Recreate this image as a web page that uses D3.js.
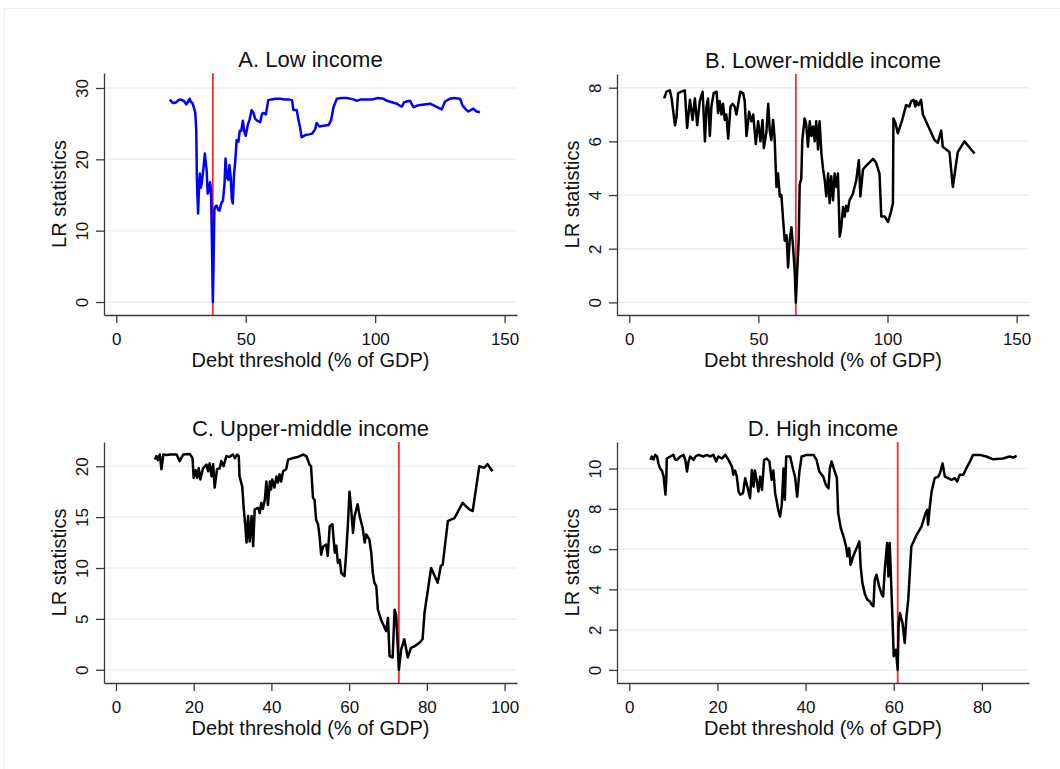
<!DOCTYPE html>
<html>
<head>
<meta charset="utf-8">
<script src="https://cdn.jsdelivr.net/npm/d3@7"></script>
<style>
  html, body { margin: 0; padding: 0; background: #fff; }
  svg { display: block; font-family: "Liberation Sans", Arial, sans-serif; }
</style>
</head>
<body>
<svg id="chart" width="1060" height="769"></svg>
<script>
// Panel titles, thresholds (red reference line) and axis ticks
const panelTitles = ["A. Low income", "B. Lower-middle income", "C. Upper-middle income", "D. High income"];
const thresholds = [37.3, 64.5, 72.8, 60.9];
const xTicksA = [0, 50, 100, 150];
const xTicksB = [0, 50, 100, 150];
const xTicksC = [0, 20, 40, 60, 80, 100];
const xTicksD = [0, 20, 40, 60, 80];
const yTicksA = [0, 10, 20, 30];
const yTicksB = [0, 2, 4, 6, 8];
const yTicksC = [0, 5, 10, 15, 20];
const yTicksD = [0, 2, 4, 6, 8, 10];

// A. Low income: debt threshold (% of GDP) and LR statistic
const lowX = [20.7,21.5,22.3,23.2,24.0,24.8,25.5,26.3,27.0,27.6,28.3,28.9,29.4,30.0,30.5,30.9,31.1,31.3,31.6,31.9,32.3,32.6,33.0,33.6,34.2,34.6,34.9,35.3,35.8,36.2,36.6,37.0,37.3,37.6,37.9,38.3,38.8,39.4,39.9,40.5,41.2,41.8,42.2,42.7,43.3,43.7,44.2,44.6,45.0,45.5,45.9,46.5,47.2,47.7,48.3,48.9,49.5,50.0,50.8,51.5,52.3,53.0,53.6,54.5,55.6,56.3,57.0,57.8,58.7,60.0,61.5,63.3,65.0,66.5,67.9,68.4,69.7,70.5,71.0,71.6,73.0,74.5,75.6,76.8,77.4,78.5,80.0,82.0,83.0,83.9,85.2,87.0,89.0,91.6,92.9,94.5,96.9,99.0,101.0,103.2,104.5,106.5,108.4,109.6,110.3,111.2,112.2,113.5,114.8,116.0,117.3,119.0,121.2,123.0,125.7,127.0,128.9,130.5,132.8,133.7,135.0,136.0,137.9,139.2,140.5];
const lowY = [28.4,28.0,27.9,28.0,28.3,28.4,28.3,28.1,27.7,28.0,28.5,28.0,27.9,27.2,26.6,24.0,18.0,15.2,12.4,15.5,18.0,16.0,16.6,18.5,20.8,19.5,18.5,15.2,15.4,16.8,15.8,7.0,0.0,6.0,13.0,13.4,13.5,12.9,12.8,13.8,14.2,16.5,20.1,17.5,17.1,19.2,17.5,14.5,13.8,18.0,19.5,22.7,22.5,24.0,24.0,25.4,23.8,23.3,24.8,25.6,26.9,26.5,25.7,25.4,25.2,26.4,26.5,26.3,28.3,28.4,28.5,28.5,28.4,28.4,28.3,26.9,26.9,25.3,24.5,23.1,23.4,23.5,23.6,24.2,25.1,24.6,24.7,24.8,25.5,27.3,28.5,28.6,28.6,28.4,28.2,28.4,28.4,28.4,28.6,28.5,28.2,28.0,27.8,27.5,27.4,28.0,28.1,28.2,27.3,27.5,27.6,27.7,27.8,27.5,27.0,28.1,28.5,28.6,28.5,27.6,27.0,26.7,27.1,26.7,26.6];

// B. Lower-middle income
const lowerMidX = [13.5,14.4,15.7,16.4,17.7,18.3,18.9,20.2,21.5,22.4,23.5,24.5,25.4,26.3,27.3,28.4,29.3,29.9,30.5,31.2,31.8,32.7,33.8,34.4,35.0,35.7,36.3,37.0,37.6,38.3,39.2,40.0,40.8,41.5,42.2,43.0,44.1,44.7,45.4,46.4,47.3,48.0,49.0,49.9,50.8,51.6,52.1,53.1,53.8,54.4,55.0,55.7,56.3,57.0,57.6,58.3,58.9,59.6,60.2,60.9,61.5,62.1,62.8,63.4,64.1,64.5,65.0,65.6,66.0,66.6,67.0,67.9,68.5,69.2,69.9,70.5,71.2,71.8,72.4,73.1,73.7,74.4,75.0,75.7,76.3,77.0,77.6,78.2,78.9,79.5,80.2,80.8,81.5,82.1,82.8,83.4,84.0,84.6,85.3,86.6,87.9,88.9,89.5,90.5,91.8,94.4,95.6,96.9,97.6,98.9,100.2,101.3,102.1,102.3,103.0,104.0,105.7,107.2,108.5,109.2,110.1,110.8,111.1,112.0,113.0,113.7,115.6,118.2,119.5,120.8,121.4,124.0,125.3,127.2,129.8,133.7];
const lowerMidY = [7.6,7.85,7.9,7.6,6.6,6.9,7.8,7.85,7.9,6.5,7.55,6.8,7.6,6.6,7.5,7.85,6.0,7.3,7.6,6.2,7.3,7.8,7.85,7.05,7.5,7.0,7.4,6.8,7.0,6.1,7.3,7.4,7.3,7.0,7.4,7.85,7.8,7.5,6.2,7.1,6.75,7.0,5.9,6.75,6.0,6.8,5.75,6.35,7.4,6.4,6.05,6.8,6.1,4.3,4.8,3.95,4.0,3.05,2.3,2.5,1.3,2.3,2.8,2.1,1.1,0.0,1.1,2.3,4.4,4.6,6.05,6.85,6.65,5.8,6.75,6.2,6.55,6.0,6.75,5.7,6.75,5.55,5.0,4.55,3.95,4.8,3.7,4.7,3.8,4.8,4.3,4.8,2.45,2.8,3.55,3.2,3.6,3.4,3.8,4.05,4.55,5.3,3.95,4.95,5.1,5.35,5.2,4.8,3.2,3.2,3.0,3.35,3.7,6.85,6.7,6.3,6.8,7.35,7.3,7.5,7.55,7.3,7.5,7.35,7.55,7.0,6.6,6.05,5.95,6.4,5.8,5.6,4.3,5.6,6.0,5.55];

// C. Upper-middle income
const upperMidX = [10.0,10.4,10.8,11.3,11.7,12.2,13.0,13.9,15.6,16.4,17.3,19.0,19.7,20.0,20.5,20.9,21.3,21.7,22.4,23.3,23.7,24.1,24.6,25.0,25.4,26.0,26.7,27.1,27.7,28.4,29.2,30.1,30.6,31.2,31.6,31.8,32.5,32.9,33.3,33.6,34.0,34.4,34.9,35.3,35.7,36.6,37.0,37.4,37.8,38.3,38.7,39.1,39.6,39.9,40.2,40.8,41.3,41.7,42.1,42.5,43.0,43.8,44.3,45.5,46.8,48.1,49.0,49.8,50.2,50.7,51.1,51.5,52.0,52.4,52.8,53.3,54.1,54.5,55.0,55.7,56.3,56.7,57.1,57.6,58.0,58.8,59.2,59.7,60.1,60.5,61.0,61.4,62.2,62.7,63.5,64.0,64.4,65.2,65.7,66.1,66.5,67.0,67.4,68.2,69.5,70.0,70.4,71.2,71.7,72.1,72.8,73.4,74.2,75.1,75.9,76.8,78.1,78.9,79.4,81.1,82.8,83.6,84.1,85.4,86.2,87.1,89.2,90.9,91.8,93.5,94.8,95.6,96.9];
const upperMidY = [20.65,21.0,20.6,21.15,19.7,21.15,21.1,21.15,21.15,20.5,21.15,21.2,20.8,18.85,19.6,18.85,19.8,18.7,19.8,20.15,19.5,20.3,19.0,20.2,17.9,19.7,19.8,20.5,20.0,21.0,20.9,21.15,20.8,21.15,21.0,19.0,18.0,15.75,14.1,12.5,15.1,12.6,15.1,12.15,15.75,15.9,15.4,16.4,15.8,16.7,18.5,16.2,18.5,17.7,18.7,17.9,19.0,18.4,19.2,18.5,19.5,19.7,20.65,20.8,20.9,21.15,21.0,20.15,20.0,16.9,16.7,14.75,14.3,13.1,11.3,12.1,12.3,11.2,14.1,14.3,11.5,12.2,10.5,10.8,9.5,9.2,11.2,14.4,17.5,15.9,13.45,15.1,16.25,15.1,13.9,12.5,13.3,12.8,11.5,9.5,8.55,8.2,5.9,4.95,3.8,5.1,1.35,1.2,5.9,5.4,0.0,2.0,3.0,1.2,2.15,2.3,2.65,3.0,5.6,10.0,8.55,10.2,10.35,14.6,14.75,14.9,16.4,15.75,15.6,20.0,19.85,20.2,19.5];

// D. High income
const highX = [4.8,5.1,5.5,5.9,6.3,6.6,7.0,7.4,7.8,8.2,8.4,8.5,9.3,10.0,10.4,10.8,11.6,12.3,12.7,13.1,13.4,13.8,14.6,15.0,15.7,16.8,17.6,18.3,19.1,19.7,20.2,21.0,21.8,22.5,23.3,23.6,24.0,24.4,24.8,25.2,25.8,26.3,26.8,27.4,27.8,28.2,28.5,28.9,29.3,29.7,30.1,30.6,31.2,31.8,32.3,32.7,33.1,33.8,34.2,34.6,35.0,35.3,35.6,36.5,37.2,37.6,38.1,38.6,39.1,40.3,41.8,42.5,43.1,44.0,44.6,45.2,45.5,45.9,46.5,47.1,47.4,48.0,48.6,49.2,49.5,49.9,50.2,50.8,51.6,52.2,52.5,52.9,53.5,54.0,54.6,55.0,55.4,55.7,56.1,56.7,57.3,57.6,58.0,58.5,58.8,59.1,59.7,60.0,60.5,60.9,61.1,61.4,62.0,62.5,62.9,63.3,64.0,65.2,66.3,67.1,67.6,67.8,68.2,68.6,69.3,70.1,70.5,71.1,71.6,72.4,73.1,73.9,74.4,75.0,75.8,76.5,77.3,78.0,79.5,81.0,82.6,84.8,86.3,87.1,87.9];
const highY = [10.43,10.6,10.45,10.68,10.6,10.26,10.0,9.9,9.6,8.7,9.45,10.5,10.6,10.68,10.45,10.43,10.6,10.68,10.43,9.85,10.3,10.6,10.43,10.6,10.68,10.6,10.68,10.6,10.68,10.35,10.6,10.5,10.68,10.43,10.1,9.69,9.9,9.6,8.86,8.7,8.78,9.52,9.1,8.53,9.93,9.1,9.9,9.44,8.86,9.6,8.94,10.43,10.5,10.35,9.44,9.9,8.78,7.95,7.62,8.2,10.0,8.45,10.6,10.6,9.93,9.6,8.6,9.85,10.6,10.68,10.68,10.43,9.85,9.6,9.19,9.02,10.0,10.35,9.93,9.52,7.78,7.04,6.63,6.13,5.64,6.05,5.22,5.64,6.05,6.38,5.14,4.31,3.74,3.49,3.4,3.24,3.16,4.48,4.73,4.15,3.74,3.65,5.06,6.3,4.64,6.3,2.66,0.68,1.0,0.0,2.17,2.83,2.33,1.34,2.66,3.49,6.13,6.71,7.12,7.7,7.95,7.21,8.12,8.86,9.52,9.6,9.77,10.26,9.6,9.52,9.44,9.52,9.36,9.69,9.69,10.02,10.35,10.68,10.68,10.6,10.46,10.5,10.6,10.55,10.63];

// Layout of the four panels
const panels = [
  { title: panelTitles[0], xs: lowX, ys: lowY, color: "#0000ff", thr: thresholds[0],
    xTicks: xTicksA, yTicks: yTicksA, xDom: [-4.75, 154.8], yDom: [-1.82, 32.1],
    left: 104, top: 73, width: 413, height: 242 },
  { title: panelTitles[1], xs: lowerMidX, ys: lowerMidY, color: "#000000", thr: thresholds[1],
    xTicks: xTicksB, yTicks: yTicksB, xDom: [-4.76, 154.8], yDom: [-0.47, 8.51],
    left: 617, top: 74, width: 412, height: 241 },
  { title: panelTitles[2], xs: upperMidX, ys: upperMidY, color: "#000000", thr: thresholds[2],
    xTicks: xTicksC, yTicks: yTicksC, xDom: [-3.08, 103.2], yDom: [-1.3, 22.38],
    left: 104, top: 442, width: 413, height: 241 },
  { title: panelTitles[3], xs: highX, ys: highY, color: "#000000", thr: thresholds[3],
    xTicks: xTicksD, yTicks: yTicksD, xDom: [-2.79, 90.7], yDom: [-0.65, 11.32],
    left: 617, top: 442, width: 412, height: 241 }
];

const svg = d3.select("#chart");

// faint outer frame of the graph region
svg.append("rect")
  .attr("x", 4.5).attr("y", 8.5)
  .attr("width", 1070).attr("height", 780)
  .attr("fill", "none").attr("stroke", "#f0f0f0").attr("stroke-width", 1);

panels.forEach(p => {
  const g = svg.append("g").attr("transform", `translate(${p.left},${p.top})`);
  const x = d3.scaleLinear().domain(p.xDom).range([0, p.width]);
  const y = d3.scaleLinear().domain(p.yDom).range([p.height, 0]);

  // horizontal grid lines
  g.append("g").selectAll("line").data(p.yTicks).join("line")
    .attr("x1", 0).attr("x2", p.width)
    .attr("y1", d => y(d)).attr("y2", d => y(d))
    .attr("stroke", "#e9f0f3").attr("stroke-width", 1.5);

  // threshold line
  g.append("line")
    .attr("x1", x(p.thr)).attr("x2", x(p.thr))
    .attr("y1", 0).attr("y2", p.height)
    .attr("stroke", "#ff2a2a").attr("stroke-width", 1.8);

  // LR statistic series
  const pts = p.xs.map((v, i) => [v, p.ys[i]]);
  g.append("path")
    .datum(pts)
    .attr("fill", "none")
    .attr("stroke", p.color)
    .attr("stroke-width", 2.5)
    .attr("stroke-linejoin", "round")
    .attr("d", d3.line().x(d => x(d[0])).y(d => y(d[1])));

  // y axis with vertical tick labels
  const yAxis = g.append("g")
    .call(d3.axisLeft(y).tickValues(p.yTicks).tickSize(8).tickSizeOuter(0));
  yAxis.select(".domain").attr("stroke", "#3a3a3a").attr("stroke-width", 1.3);
  yAxis.selectAll(".tick line").attr("stroke", "#3a3a3a").attr("stroke-width", 1.3);
  yAxis.selectAll(".tick text")
    .attr("x", 0).attr("y", -16).attr("dy", 0)
    .attr("transform", "rotate(-90)")
    .attr("text-anchor", "middle")
    .attr("fill", "#111")
    .style("font-size", "17px")
    .style("font-family", "'Liberation Sans', Arial, sans-serif");

  // x axis
  const xAxis = g.append("g").attr("transform", `translate(0,${p.height})`)
    .call(d3.axisBottom(x).tickValues(p.xTicks).tickSize(8).tickSizeOuter(0));
  xAxis.select(".domain").attr("stroke", "#3a3a3a").attr("stroke-width", 1.3);
  xAxis.selectAll(".tick line").attr("stroke", "#3a3a3a").attr("stroke-width", 1.3);
  xAxis.selectAll(".tick text")
    .attr("y", 30).attr("dy", 0)
    .attr("fill", "#111")
    .style("font-size", "17px")
    .style("font-family", "'Liberation Sans', Arial, sans-serif");

  // axis titles
  g.append("text")
    .attr("x", p.width / 2).attr("y", p.height + 52)
    .attr("text-anchor", "middle")
    .attr("fill", "#111")
    .style("font-size", "20px")
    .text("Debt threshold (% of GDP)");

  g.append("text")
    .attr("transform", `translate(-38,${p.height / 2}) rotate(-90)`)
    .attr("text-anchor", "middle")
    .attr("fill", "#111")
    .style("font-size", "20px")
    .text("LR statistics");

  // panel title
  g.append("text")
    .attr("x", p.width / 2).attr("y", -6)
    .attr("text-anchor", "middle")
    .attr("fill", "#111")
    .style("font-size", "22px")
    .text(p.title);
});
</script>
</body>
</html>
